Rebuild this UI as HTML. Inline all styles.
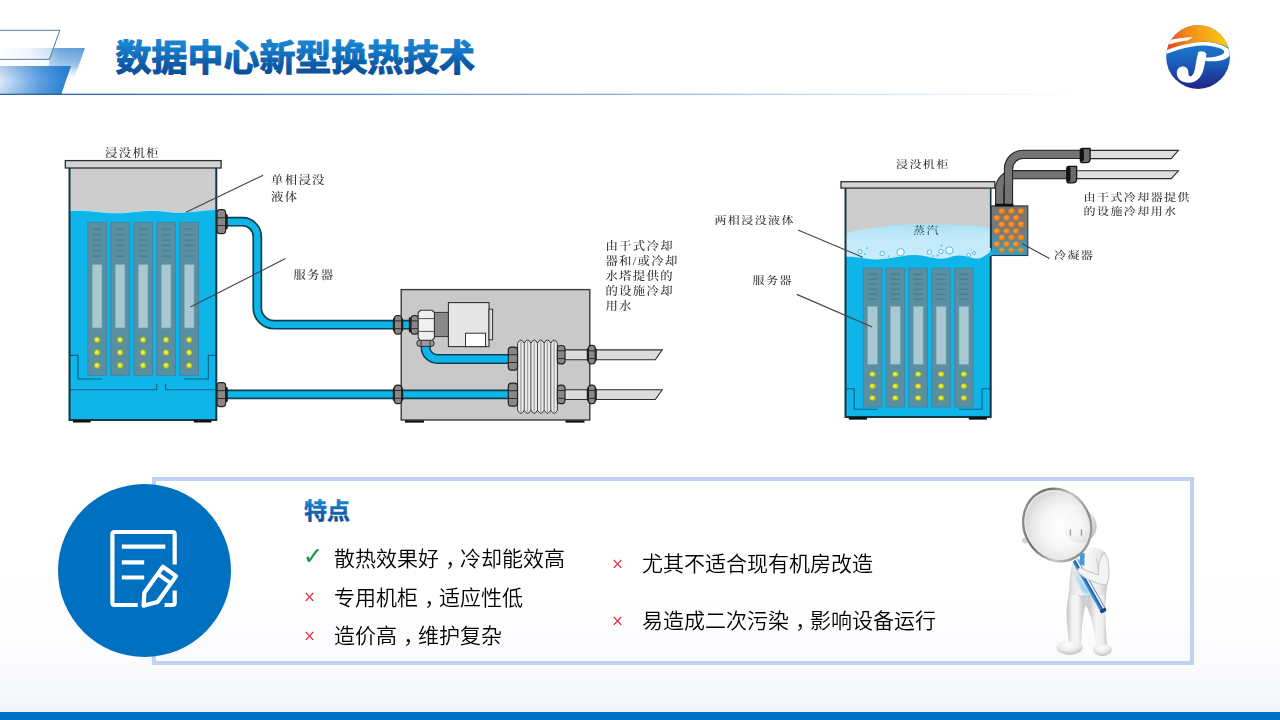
<!DOCTYPE html>
<html lang="zh-CN">
<head>
<meta charset="utf-8">
<title>数据中心新型换热技术</title>
<style>
*{box-sizing:border-box}
html,body{margin:0;padding:0}
body{width:1280px;height:720px;overflow:hidden;position:relative;background:#fff;
 font-family:"Liberation Sans","Noto Sans CJK SC",sans-serif;color:#000}
#page{position:absolute;left:0;top:0;width:1280px;height:720px;overflow:hidden;
 background:linear-gradient(to bottom,#ffffff 0%,#ffffff 78%,#fdfdfe 88%,#f9fafd 94%,#f4f6fb 97.5%,#f0f3fa 98.9%,#f0f3fa 100%)}
.abs{position:absolute}
#footer{left:0;top:712px;width:1280px;height:8px;background:#0070c0}
svg{position:absolute;left:0;top:0;overflow:visible}
#dg1,#dg2{filter:blur(0.4px)}
#titlesvg,#hsvg{transform:scaleY(1.0001);transform-origin:0 0}
.lbl{position:absolute;font-family:"Liberation Serif","Noto Serif CJK SC",serif;font-size:12.4px;letter-spacing:1.3px;line-height:14.6px;color:#333;font-weight:500;white-space:nowrap;transform:scaleY(0.94);transform-origin:0 0}
.lbl.r{font-size:12px;letter-spacing:1.42px;transform:scaleY(0.88)}
#panel{left:152px;top:477px;width:1042px;height:188px;border:4px solid #c0d2f3;
 background:linear-gradient(to bottom,#ffffff 0%,#ffffff 60%,#fafbfe 100%)}
#disc{left:58px;top:483.5px;width:173px;height:173px;border-radius:50%;background:#0070c0}
.li{position:absolute;font-size:21px;line-height:30px;height:30px;font-weight:350;white-space:nowrap;color:#000;transform:scaleY(1.0001);transform-origin:0 0}
.li .c{position:relative;left:0.3em}
.bx{position:absolute;font-family:"DejaVu Sans","Liberation Sans",sans-serif;font-weight:200;font-size:15px;line-height:20px;height:20px;color:#e3262f;-webkit-text-stroke:0.3px #e3262f;white-space:nowrap;transform:scaleY(1.0001)}
.bc{position:absolute;font-family:"DejaVu Sans",sans-serif;font-size:24px;line-height:24px;height:24px;color:#179a48;-webkit-text-stroke:0.2px #179a48;transform:scaleY(1.0001);white-space:nowrap}
</style>
</head>
<body>
<div id="page">
<!--DECO-->
<svg id="deco" width="1280" height="110" viewBox="0 0 1280 110">
<defs>
<linearGradient id="dMidV" x1="0" y1="48" x2="0" y2="78" gradientUnits="userSpaceOnUse">
<stop offset="0" stop-color="#5a98d6" stop-opacity="1"/><stop offset="0.6" stop-color="#88b6e4" stop-opacity="0.85"/><stop offset="1" stop-color="#c4dcf3" stop-opacity="0.1"/></linearGradient>
<linearGradient id="dMidH" x1="0" y1="0" x2="86" y2="0" gradientUnits="userSpaceOnUse">
<stop offset="0" stop-color="#fff" stop-opacity="1"/><stop offset="0.35" stop-color="#fff" stop-opacity="0.75"/><stop offset="0.7" stop-color="#fff" stop-opacity="0.1"/><stop offset="1" stop-color="#fff" stop-opacity="0"/></linearGradient>
<linearGradient id="dLow" x1="0" y1="0" x2="72" y2="0" gradientUnits="userSpaceOnUse">
<stop offset="0" stop-color="#dde9f8"/><stop offset="0.25" stop-color="#a2c9ef"/><stop offset="0.55" stop-color="#5fa2e2"/><stop offset="0.85" stop-color="#3488d8"/><stop offset="1" stop-color="#2b80d0"/></linearGradient>
<linearGradient id="dLowV" x1="0" y1="66" x2="0" y2="95" gradientUnits="userSpaceOnUse">
<stop offset="0" stop-color="#0a4fa0" stop-opacity="0.18"/><stop offset="0.5" stop-color="#0a4fa0" stop-opacity="0"/><stop offset="1" stop-color="#0a4fa0" stop-opacity="0.12"/></linearGradient>
<linearGradient id="dLine" x1="60" y1="0" x2="1110" y2="0" gradientUnits="userSpaceOnUse">
<stop offset="0" stop-color="#1d5c99"/><stop offset="0.25" stop-color="#3f7fbd"/><stop offset="0.6" stop-color="#8db8e2"/><stop offset="1" stop-color="#d9e8f6" stop-opacity="0"/></linearGradient>
</defs>
<polygon points="0,48.1 85,48.1 74.3,78 0,78" fill="url(#dMidV)"/>
<polygon points="0,48.1 85,48.1 74.3,78 0,78" fill="url(#dMidH)"/>
<polygon points="-5,30.3 59.8,30.3 49.4,59.4 -5,59.4" fill="#fff" fill-opacity="0.55" stroke="#3c6c9c" stroke-width="0.9"/>
<rect x="0" y="59.9" width="49.2" height="6.1" fill="#fff" fill-opacity="0.85"/>
<polygon points="0,66 71,66 61.2,94.6 0,94.6" fill="url(#dLow)"/>
<polygon points="0,66 71,66 61.2,94.6 0,94.6" fill="url(#dLowV)"/>
<rect x="0" y="93.7" width="1120" height="1.2" fill="url(#dLine)"/>
</svg>
<!--/DECO-->
<svg id="titlesvg" width="1280" height="110" viewBox="0 0 1280 110">
<defs><linearGradient id="tg" x1="0" y1="40" x2="0" y2="75" gradientUnits="userSpaceOnUse">
<stop offset="0" stop-color="#1b86d2"/><stop offset="0.3" stop-color="#1478c6"/><stop offset="0.75" stop-color="#0b58a3"/><stop offset="1" stop-color="#0a4f9a"/></linearGradient></defs>
<text x="115.6" y="70.6" font-family="'Liberation Sans','Noto Sans CJK SC',sans-serif" font-size="36" font-weight="700" fill="url(#tg)" stroke="url(#tg)" stroke-width="1.15" stroke-linejoin="round" letter-spacing="-0.05">数据中心新型换热技术</text>
</svg>
<!--LOGO-->
<svg id="logo" width="1280" height="110" viewBox="0 0 1280 110">
<defs>
<linearGradient id="lgO" x1="100" y1="260" x2="640" y2="150" gradientUnits="userSpaceOnUse">
<stop offset="0" stop-color="#e9471f"/><stop offset="0.28" stop-color="#f2811c"/><stop offset="0.6" stop-color="#f5a416"/><stop offset="1" stop-color="#f8c914"/></linearGradient>
<linearGradient id="lgB" x1="0" y1="240" x2="0" y2="670" gradientUnits="userSpaceOnUse">
<stop offset="0" stop-color="#1a78cf"/><stop offset="0.4" stop-color="#1a60ba"/><stop offset="0.75" stop-color="#1e3c9e"/><stop offset="1" stop-color="#23228a"/></linearGradient>
<clipPath id="lgC"><circle cx="370" cy="360" r="310"/></clipPath>
</defs>
<g transform="translate(1160,20) scale(0.10284)">
<g clip-path="url(#lgC)">
<rect x="40" y="40" width="660" height="650" fill="url(#lgB)"/>
<path d="M0,0 H739 V340 C700,280 640,245 560,228 C500,215 440,210 400,214 C330,220 250,240 200,256 C150,272 100,290 40,315 L0,330 Z" fill="url(#lgO)"/>
<path d="M70,200 C140,182 240,170 322,168 L268,200 C210,206 150,218 95,238 Z" fill="#fff"/>
<path d="M40,304 C120,268 260,224 400,214 C500,208 600,232 660,276 C700,306 690,350 640,376 C590,400 510,408 440,398 L440,364 C510,368 570,356 606,334 C632,318 630,298 600,282 C550,258 470,246 400,248 C300,254 160,290 50,334 Z" fill="#fff"/>
<path d="M372,312 C400,300 430,300 452,330 C444,380 434,440 420,490 C400,560 350,610 280,610 C210,610 160,570 163,510 C165,470 195,448 230,452 C262,456 280,484 276,520 C274,540 290,552 306,544 C328,532 338,490 346,440 C354,390 364,350 372,312 Z" fill="#fff"/>
</g>
</g>
</svg>
<!--/LOGO-->
<!--DIAGRAM1-->
<svg id="dg1" width="1280" height="720" viewBox="0 0 1280 720">
<rect x="69.5" y="168.0" width="146.8" height="252.0" fill="#cdcdcd"/>
<path d="M69.5,210.6 C82,209.6 95,211.6 110,212.8 C125,213.8 138,210.6 150,210.4 C162,210.2 170,212.6 180,212.4 C192,212.2 205,209.8 216.3,209.4 V420.0 H69.5 Z" fill="#0eb5e8"/>
<path d="M69.5,210.6 C82,209.6 95,211.6 110,212.8 C125,213.8 138,210.6 150,210.4 C162,210.2 170,212.6 180,212.4 C192,212.2 205,209.8 216.3,209.4" fill="none" stroke="#a8dff3" stroke-width="1"/>
<rect x="87.8" y="222.4" width="18.6" height="153.0" fill="#5a8fa2" stroke="#3f86a6" stroke-width="1"/>
<path d="M92.7,229.3h8.8M92.7,234.7h8.8M92.7,240.1h8.8M92.7,245.5h8.8M92.7,250.9h8.8M92.7,256.3h8.8" stroke="#4b7e91" stroke-width="1.4" fill="none"/>
<rect x="92.3" y="264.7" width="9.6" height="63.2" fill="#a9c9d2" stroke="#7fa9b8" stroke-width="0.6"/>
<circle cx="97.1" cy="339.8" r="3" fill="#cfdc2e" stroke="#7f9a3a" stroke-width="0.7"/>
<circle cx="96.7" cy="339.4" r="1.5" fill="#e8f05a"/>
<circle cx="97.1" cy="352.6" r="3" fill="#cfdc2e" stroke="#7f9a3a" stroke-width="0.7"/>
<circle cx="96.7" cy="352.2" r="1.5" fill="#e8f05a"/>
<circle cx="97.1" cy="365.4" r="3" fill="#cfdc2e" stroke="#7f9a3a" stroke-width="0.7"/>
<circle cx="96.7" cy="365.0" r="1.5" fill="#e8f05a"/>
<rect x="110.8" y="222.4" width="18.6" height="153.0" fill="#5a8fa2" stroke="#3f86a6" stroke-width="1"/>
<path d="M115.7,229.3h8.8M115.7,234.7h8.8M115.7,240.1h8.8M115.7,245.5h8.8M115.7,250.9h8.8M115.7,256.3h8.8" stroke="#4b7e91" stroke-width="1.4" fill="none"/>
<rect x="115.3" y="264.7" width="9.6" height="63.2" fill="#a9c9d2" stroke="#7fa9b8" stroke-width="0.6"/>
<circle cx="120.1" cy="339.8" r="3" fill="#cfdc2e" stroke="#7f9a3a" stroke-width="0.7"/>
<circle cx="119.7" cy="339.4" r="1.5" fill="#e8f05a"/>
<circle cx="120.1" cy="352.6" r="3" fill="#cfdc2e" stroke="#7f9a3a" stroke-width="0.7"/>
<circle cx="119.7" cy="352.2" r="1.5" fill="#e8f05a"/>
<circle cx="120.1" cy="365.4" r="3" fill="#cfdc2e" stroke="#7f9a3a" stroke-width="0.7"/>
<circle cx="119.7" cy="365.0" r="1.5" fill="#e8f05a"/>
<rect x="133.8" y="222.4" width="18.6" height="153.0" fill="#5a8fa2" stroke="#3f86a6" stroke-width="1"/>
<path d="M138.7,229.3h8.8M138.7,234.7h8.8M138.7,240.1h8.8M138.7,245.5h8.8M138.7,250.9h8.8M138.7,256.3h8.8" stroke="#4b7e91" stroke-width="1.4" fill="none"/>
<rect x="138.3" y="264.7" width="9.6" height="63.2" fill="#a9c9d2" stroke="#7fa9b8" stroke-width="0.6"/>
<circle cx="143.1" cy="339.8" r="3" fill="#cfdc2e" stroke="#7f9a3a" stroke-width="0.7"/>
<circle cx="142.7" cy="339.4" r="1.5" fill="#e8f05a"/>
<circle cx="143.1" cy="352.6" r="3" fill="#cfdc2e" stroke="#7f9a3a" stroke-width="0.7"/>
<circle cx="142.7" cy="352.2" r="1.5" fill="#e8f05a"/>
<circle cx="143.1" cy="365.4" r="3" fill="#cfdc2e" stroke="#7f9a3a" stroke-width="0.7"/>
<circle cx="142.7" cy="365.0" r="1.5" fill="#e8f05a"/>
<rect x="156.8" y="222.4" width="18.6" height="153.0" fill="#5a8fa2" stroke="#3f86a6" stroke-width="1"/>
<path d="M161.7,229.3h8.8M161.7,234.7h8.8M161.7,240.1h8.8M161.7,245.5h8.8M161.7,250.9h8.8M161.7,256.3h8.8" stroke="#4b7e91" stroke-width="1.4" fill="none"/>
<rect x="161.3" y="264.7" width="9.6" height="63.2" fill="#a9c9d2" stroke="#7fa9b8" stroke-width="0.6"/>
<circle cx="166.1" cy="339.8" r="3" fill="#cfdc2e" stroke="#7f9a3a" stroke-width="0.7"/>
<circle cx="165.7" cy="339.4" r="1.5" fill="#e8f05a"/>
<circle cx="166.1" cy="352.6" r="3" fill="#cfdc2e" stroke="#7f9a3a" stroke-width="0.7"/>
<circle cx="165.7" cy="352.2" r="1.5" fill="#e8f05a"/>
<circle cx="166.1" cy="365.4" r="3" fill="#cfdc2e" stroke="#7f9a3a" stroke-width="0.7"/>
<circle cx="165.7" cy="365.0" r="1.5" fill="#e8f05a"/>
<rect x="179.9" y="222.4" width="18.6" height="153.0" fill="#5a8fa2" stroke="#3f86a6" stroke-width="1"/>
<path d="M184.8,229.3h8.8M184.8,234.7h8.8M184.8,240.1h8.8M184.8,245.5h8.8M184.8,250.9h8.8M184.8,256.3h8.8" stroke="#4b7e91" stroke-width="1.4" fill="none"/>
<rect x="184.4" y="264.7" width="9.6" height="63.2" fill="#a9c9d2" stroke="#7fa9b8" stroke-width="0.6"/>
<circle cx="189.2" cy="339.8" r="3" fill="#cfdc2e" stroke="#7f9a3a" stroke-width="0.7"/>
<circle cx="188.8" cy="339.4" r="1.5" fill="#e8f05a"/>
<circle cx="189.2" cy="352.6" r="3" fill="#cfdc2e" stroke="#7f9a3a" stroke-width="0.7"/>
<circle cx="188.8" cy="352.2" r="1.5" fill="#e8f05a"/>
<circle cx="189.2" cy="365.4" r="3" fill="#cfdc2e" stroke="#7f9a3a" stroke-width="0.7"/>
<circle cx="188.8" cy="365.0" r="1.5" fill="#e8f05a"/>
<path d="M69.5,355.4 H78 V379 H102 M216.3,355.4 H208.3 V379 H184.4 M69.5,389.8 H156.7 V384 M216.3,389.8 H165.6 V384" fill="none" stroke="#0c5f7d" stroke-width="1.1"/>
<path d="M69.5,168.0 V420.0 H216.3 V168.0" fill="none" stroke="#143744" stroke-width="2"/>
<rect x="73" y="420.3" width="17.6" height="2.2" fill="#0a0a0a"/><rect x="193.8" y="420.3" width="17.6" height="2.2" fill="#0a0a0a"/>
<rect x="65.3" y="160.6" width="155.8" height="7.4" fill="#d4d4d4" stroke="#2e2e2e" stroke-width="1.3"/>
<rect x="401.2" y="289.6" width="188.6" height="130.4" fill="#c9c9c9" stroke="#3a3a3a" stroke-width="1.4"/>
<rect x="405" y="420.4" width="19" height="2.2" fill="#0a0a0a"/><rect x="565.5" y="420.4" width="19" height="2.2" fill="#0a0a0a"/>
<path d="M226,221.7 H242.3 A15,15 0 0 1 257.3,236.7 V307.7 A17,17 0 0 0 274.3,324.7 H420" fill="none" stroke="#0e3f52" stroke-width="9.8" stroke-linecap="butt"/><path d="M226,221.7 H242.3 A15,15 0 0 1 257.3,236.7 V307.7 A17,17 0 0 0 274.3,324.7 H420" fill="none" stroke="#0eb5e8" stroke-width="6.4" stroke-linecap="butt"/>
<path d="M226,394.4 H510" fill="none" stroke="#0e3f52" stroke-width="9.8" stroke-linecap="butt"/><path d="M226,394.4 H510" fill="none" stroke="#0eb5e8" stroke-width="6.4" stroke-linecap="butt"/>
<path d="M425.6,344 V347.2 A11.8,11.8 0 0 0 437.4,359 H510" fill="none" stroke="#0e3f52" stroke-width="10" stroke-linecap="butt"/><path d="M425.6,344 V347.2 A11.8,11.8 0 0 0 437.4,359 H510" fill="none" stroke="#0eb5e8" stroke-width="7" stroke-linecap="butt"/>
<path d="M563,349.9 H662.2 L655.3,359.7 H563 Z M563,389.7 H662.2 L655.3,399.5 H563 Z" fill="#dcdcdc" stroke="#2e2e2e" stroke-width="1.1" stroke-linejoin="miter"/>
<path d="M517.6,343.2 Q520.92,336.8 524.23,343.2 Q527.55,336.8 530.87,343.2 Q534.18,336.8 537.50,343.2 Q540.82,336.8 544.13,343.2 Q547.45,336.8 550.77,343.2 Q554.08,336.8 557.40,343.2 V410.2 Q554.08,416.6 550.77,410.2 Q547.45,416.6 544.13,410.2 Q540.82,416.6 537.50,410.2 Q534.18,416.6 530.87,410.2 Q527.55,416.6 524.23,410.2 Q520.92,416.6 517.60,410.2 Z" fill="#ececec" stroke="#333" stroke-width="1"/>
<path d="M524.23,343.2V410.2M530.87,343.2V410.2M537.50,343.2V410.2M544.13,343.2V410.2M550.77,343.2V410.2" stroke="#4a4a4a" stroke-width="1" fill="none"/>
<path d="M520.92,341.2V412.2M527.55,341.2V412.2M534.18,341.2V412.2M540.82,341.2V412.2M547.45,341.2V412.2M554.08,341.2V412.2" stroke="#a2a2a2" stroke-width="1.3" fill="none"/>
<rect x="224.6" y="214.1" width="3.2" height="15.2" rx="1.4" fill="#1c1c1c"/><rect x="217.0" y="209.7" width="8.6" height="24.0" rx="3" ry="3.4" fill="#8b8786" stroke="#222" stroke-width="1.2"/><path d="M217.0,217.8h8.6M217.0,225.6h8.6" stroke="#2a2a2a" stroke-width="1" fill="none"/>
<rect x="224.6" y="387.0" width="3.2" height="15.2" rx="1.4" fill="#1c1c1c"/><rect x="217.0" y="382.6" width="8.6" height="24.0" rx="3" ry="3.4" fill="#8b8786" stroke="#222" stroke-width="1.2"/><path d="M217.0,390.7h8.6M217.0,398.5h8.6" stroke="#2a2a2a" stroke-width="1" fill="none"/>
<rect x="392.8" y="317.5" width="10.4" height="14.6" rx="2.4" fill="#1c1c1c"/><rect x="394.4" y="315.5" width="7.2" height="18.6" rx="3" ry="3.4" fill="#8b8786" stroke="#222" stroke-width="1.2"/><path d="M394.4,320.9h7.2M394.4,328.7h7.2" stroke="#2a2a2a" stroke-width="1" fill="none"/>
<rect x="392.8" y="387.1" width="10.4" height="14.6" rx="2.4" fill="#1c1c1c"/><rect x="394.4" y="385.1" width="7.2" height="18.6" rx="3" ry="3.4" fill="#8b8786" stroke="#222" stroke-width="1.2"/><path d="M394.4,390.5h7.2M394.4,398.3h7.2" stroke="#2a2a2a" stroke-width="1" fill="none"/>
<rect x="408.8" y="317.2" width="3.2" height="15.2" rx="1.4" fill="#1c1c1c"/><rect x="411.0" y="315.5" width="7.4" height="18.6" rx="3" ry="3.4" fill="#8b8786" stroke="#222" stroke-width="1.2"/><path d="M411.0,320.9h7.4M411.0,328.7h7.4" stroke="#2a2a2a" stroke-width="1" fill="none"/>
<rect x="508.3" y="347.1" width="9.2" height="23.0" rx="3" ry="3.4" fill="#8b8786" stroke="#222" stroke-width="1.2"/><path d="M508.3,354.7h9.2M508.3,362.5h9.2" stroke="#2a2a2a" stroke-width="1" fill="none"/>
<rect x="508.3" y="383.1" width="9.2" height="23.0" rx="3" ry="3.4" fill="#8b8786" stroke="#222" stroke-width="1.2"/><path d="M508.3,390.7h9.2M508.3,398.5h9.2" stroke="#2a2a2a" stroke-width="1" fill="none"/>
<rect x="557.4" y="345.5" width="7.6" height="18.4" rx="3" ry="3.4" fill="#8b8786" stroke="#222" stroke-width="1.2"/><path d="M557.4,350.8h7.6M557.4,358.6h7.6" stroke="#2a2a2a" stroke-width="1" fill="none"/>
<rect x="557.4" y="385.2" width="7.6" height="18.4" rx="3" ry="3.4" fill="#8b8786" stroke="#222" stroke-width="1.2"/><path d="M557.4,390.5h7.6M557.4,398.3h7.6" stroke="#2a2a2a" stroke-width="1" fill="none"/>
<rect x="586.8" y="347.4" width="10.0" height="14.6" rx="2.4" fill="#1c1c1c"/><rect x="588.4" y="345.4" width="6.8" height="18.6" rx="3" ry="3.4" fill="#8b8786" stroke="#222" stroke-width="1.2"/><path d="M588.4,350.8h6.8M588.4,358.6h6.8" stroke="#2a2a2a" stroke-width="1" fill="none"/>
<rect x="586.8" y="387.1" width="10.0" height="14.6" rx="2.4" fill="#1c1c1c"/><rect x="588.4" y="385.1" width="6.8" height="18.6" rx="3" ry="3.4" fill="#8b8786" stroke="#222" stroke-width="1.2"/><path d="M588.4,390.5h6.8M588.4,398.3h6.8" stroke="#2a2a2a" stroke-width="1" fill="none"/>
<rect x="434.4" y="312.4" width="14.2" height="24.2" fill="#8a8a8a" stroke="#333" stroke-width="1"/>
<rect x="448.4" y="302.6" width="40.6" height="44" fill="#e6e6e6" stroke="#333" stroke-width="1.1"/>
<rect x="489" y="309.2" width="3.6" height="30.6" fill="#dcdcdc" stroke="#333" stroke-width="1"/>
<rect x="465.5" y="333.2" width="20" height="13.4" fill="#fff" stroke="#333" stroke-width="1"/>
<rect x="416.8" y="340.2" width="17.4" height="6.2" rx="3" fill="#9a9a9a" stroke="#2a2a2a" stroke-width="1"/>
<path d="M421,340.4v6M430,340.4v6" stroke="#2a2a2a" stroke-width="0.9"/>
<path d="M420.5,310.3 H432 L434.4,312.5 V338 L432,340.3 H420.5 L418.2,338 V312.5 Z" fill="#f0f0f0" stroke="#333" stroke-width="1.1"/>
<path d="M418.2,318.6H434.4M418.2,331.4H434.4" stroke="#444" stroke-width="0.9"/>
<path d="M186,212.3 L263.2,175.2 M190.5,307 L285.5,258.5" stroke="#444" stroke-width="1.15" fill="none"/>
</svg>
<!--/DIAGRAM1-->
<!--DIAGRAM2-->
<svg id="dg2" width="1280" height="720" viewBox="0 0 1280 720">
<defs>
<linearGradient id="vap" x1="0" y1="224" x2="0" y2="258" gradientUnits="userSpaceOnUse">
<stop offset="0" stop-color="#a9e0f6"/><stop offset="0.3" stop-color="#bfe9fa"/><stop offset="1" stop-color="#c9edfb"/></linearGradient>
<linearGradient id="cond" x1="0" y1="206" x2="0" y2="256" gradientUnits="userSpaceOnUse">
<stop offset="0" stop-color="#767676"/><stop offset="0.45" stop-color="#727a7e"/><stop offset="0.75" stop-color="#4d8fae"/><stop offset="1" stop-color="#2f9fd0"/></linearGradient>
<radialGradient id="org" cx="0.42" cy="0.4" r="0.6">
<stop offset="0" stop-color="#f9a23a"/><stop offset="0.6" stop-color="#f0861c"/><stop offset="1" stop-color="#d86c12"/></radialGradient>
<radialGradient id="org2" cx="0.42" cy="0.4" r="0.6">
<stop offset="0" stop-color="#d8a04a"/><stop offset="0.6" stop-color="#b8923c"/><stop offset="1" stop-color="#8a8440"/></radialGradient>
</defs>
<rect x="845.5" y="188.0" width="145.20000000000005" height="229.0" fill="#cdcdcd"/>
<path d="M845.5,233.5 C870,226.5 900,224.3 925,224.3 C950,224.3 975,225.3 990.7,227.5 V262 H845.5 Z" fill="url(#vap)"/>
<path d="M845.5,256.8 C852,256.6 858,257.2 864,258.2 C872,259.6 880,259.8 888,258.6 C898,257 906,255 915,255 C924,255 932,258.6 940,258.8 C948,259 952,255.8 959,255.6 C966,255.4 971,258.6 977,258.6 C983,258.6 986,254 990.7,252.2 V417.0 H845.5 Z" fill="#0eb5e8"/>
<circle cx="860" cy="251.5" r="2" fill="#f4fbff" stroke="#4fbbe8" stroke-width="1"/>
<circle cx="882.2" cy="253.5" r="2.2" fill="#f4fbff" stroke="#4fbbe8" stroke-width="1"/>
<circle cx="900.6" cy="252.2" r="3.7" fill="#f4fbff" stroke="#4fbbe8" stroke-width="1"/>
<circle cx="929.4" cy="252.2" r="2.2" fill="#f4fbff" stroke="#4fbbe8" stroke-width="1"/>
<circle cx="941" cy="251.5" r="2.2" fill="#f4fbff" stroke="#4fbbe8" stroke-width="1"/>
<circle cx="949.4" cy="250.4" r="3.6" fill="#f4fbff" stroke="#4fbbe8" stroke-width="1"/>
<circle cx="968.7" cy="255" r="1.8" fill="#f4fbff" stroke="#4fbbe8" stroke-width="1"/>
<circle cx="974" cy="253.1" r="1.5" fill="#f4fbff" stroke="#4fbbe8" stroke-width="1"/>
<circle cx="864.7" cy="254" r="1" fill="#5cc2ec"/>
<circle cx="866.9" cy="248.1" r="0.9" fill="#5cc2ec"/>
<circle cx="888.7" cy="256.2" r="1" fill="#5cc2ec"/>
<circle cx="933.1" cy="256" r="1" fill="#5cc2ec"/>
<circle cx="937.5" cy="255.6" r="1.1" fill="#5cc2ec"/>
<circle cx="941.5" cy="245.6" r="1.1" fill="#5cc2ec"/>
<circle cx="971.2" cy="249.7" r="0.8" fill="#5cc2ec"/>
<rect x="863.3" y="268.2" width="18.4" height="138.8" fill="#5a8fa2" stroke="#3f86a6" stroke-width="1"/>
<path d="M867.9,274.2h9.2M867.9,279.2h9.2M867.9,284.2h9.2M867.9,289.2h9.2M867.9,294.2h9.2M867.9,299.2h9.2" stroke="#4b7e91" stroke-width="1.4" fill="none"/>
<rect x="867.6" y="306.3" width="9.8" height="58.0" fill="#a9c9d2" stroke="#7fa9b8" stroke-width="0.6"/>
<ellipse cx="872.5" cy="374.2" rx="3.1" ry="2.7" fill="#cfdc2e" stroke="#7f9a3a" stroke-width="0.7"/>
<circle cx="872.1" cy="373.9" r="1.4" fill="#e8f05a"/>
<ellipse cx="872.5" cy="386.2" rx="3.1" ry="2.7" fill="#cfdc2e" stroke="#7f9a3a" stroke-width="0.7"/>
<circle cx="872.1" cy="385.9" r="1.4" fill="#e8f05a"/>
<ellipse cx="872.5" cy="398.0" rx="3.1" ry="2.7" fill="#cfdc2e" stroke="#7f9a3a" stroke-width="0.7"/>
<circle cx="872.1" cy="397.7" r="1.4" fill="#e8f05a"/>
<rect x="886.1" y="268.2" width="18.4" height="138.8" fill="#5a8fa2" stroke="#3f86a6" stroke-width="1"/>
<path d="M890.7,274.2h9.2M890.7,279.2h9.2M890.7,284.2h9.2M890.7,289.2h9.2M890.7,294.2h9.2M890.7,299.2h9.2" stroke="#4b7e91" stroke-width="1.4" fill="none"/>
<rect x="890.4" y="306.3" width="9.8" height="58.0" fill="#a9c9d2" stroke="#7fa9b8" stroke-width="0.6"/>
<ellipse cx="895.3" cy="374.2" rx="3.1" ry="2.7" fill="#cfdc2e" stroke="#7f9a3a" stroke-width="0.7"/>
<circle cx="894.9" cy="373.9" r="1.4" fill="#e8f05a"/>
<ellipse cx="895.3" cy="386.2" rx="3.1" ry="2.7" fill="#cfdc2e" stroke="#7f9a3a" stroke-width="0.7"/>
<circle cx="894.9" cy="385.9" r="1.4" fill="#e8f05a"/>
<ellipse cx="895.3" cy="398.0" rx="3.1" ry="2.7" fill="#cfdc2e" stroke="#7f9a3a" stroke-width="0.7"/>
<circle cx="894.9" cy="397.7" r="1.4" fill="#e8f05a"/>
<rect x="909.0" y="268.2" width="18.4" height="138.8" fill="#5a8fa2" stroke="#3f86a6" stroke-width="1"/>
<path d="M913.6,274.2h9.2M913.6,279.2h9.2M913.6,284.2h9.2M913.6,289.2h9.2M913.6,294.2h9.2M913.6,299.2h9.2" stroke="#4b7e91" stroke-width="1.4" fill="none"/>
<rect x="913.3" y="306.3" width="9.8" height="58.0" fill="#a9c9d2" stroke="#7fa9b8" stroke-width="0.6"/>
<ellipse cx="918.2" cy="374.2" rx="3.1" ry="2.7" fill="#cfdc2e" stroke="#7f9a3a" stroke-width="0.7"/>
<circle cx="917.8" cy="373.9" r="1.4" fill="#e8f05a"/>
<ellipse cx="918.2" cy="386.2" rx="3.1" ry="2.7" fill="#cfdc2e" stroke="#7f9a3a" stroke-width="0.7"/>
<circle cx="917.8" cy="385.9" r="1.4" fill="#e8f05a"/>
<ellipse cx="918.2" cy="398.0" rx="3.1" ry="2.7" fill="#cfdc2e" stroke="#7f9a3a" stroke-width="0.7"/>
<circle cx="917.8" cy="397.7" r="1.4" fill="#e8f05a"/>
<rect x="931.9" y="268.2" width="18.4" height="138.8" fill="#5a8fa2" stroke="#3f86a6" stroke-width="1"/>
<path d="M936.5,274.2h9.2M936.5,279.2h9.2M936.5,284.2h9.2M936.5,289.2h9.2M936.5,294.2h9.2M936.5,299.2h9.2" stroke="#4b7e91" stroke-width="1.4" fill="none"/>
<rect x="936.2" y="306.3" width="9.8" height="58.0" fill="#a9c9d2" stroke="#7fa9b8" stroke-width="0.6"/>
<ellipse cx="941.1" cy="374.2" rx="3.1" ry="2.7" fill="#cfdc2e" stroke="#7f9a3a" stroke-width="0.7"/>
<circle cx="940.7" cy="373.9" r="1.4" fill="#e8f05a"/>
<ellipse cx="941.1" cy="386.2" rx="3.1" ry="2.7" fill="#cfdc2e" stroke="#7f9a3a" stroke-width="0.7"/>
<circle cx="940.7" cy="385.9" r="1.4" fill="#e8f05a"/>
<ellipse cx="941.1" cy="398.0" rx="3.1" ry="2.7" fill="#cfdc2e" stroke="#7f9a3a" stroke-width="0.7"/>
<circle cx="940.7" cy="397.7" r="1.4" fill="#e8f05a"/>
<rect x="954.7" y="268.2" width="18.4" height="138.8" fill="#5a8fa2" stroke="#3f86a6" stroke-width="1"/>
<path d="M959.3,274.2h9.2M959.3,279.2h9.2M959.3,284.2h9.2M959.3,289.2h9.2M959.3,294.2h9.2M959.3,299.2h9.2" stroke="#4b7e91" stroke-width="1.4" fill="none"/>
<rect x="959.0" y="306.3" width="9.8" height="58.0" fill="#a9c9d2" stroke="#7fa9b8" stroke-width="0.6"/>
<ellipse cx="963.9" cy="374.2" rx="3.1" ry="2.7" fill="#cfdc2e" stroke="#7f9a3a" stroke-width="0.7"/>
<circle cx="963.5" cy="373.9" r="1.4" fill="#e8f05a"/>
<ellipse cx="963.9" cy="386.2" rx="3.1" ry="2.7" fill="#cfdc2e" stroke="#7f9a3a" stroke-width="0.7"/>
<circle cx="963.5" cy="385.9" r="1.4" fill="#e8f05a"/>
<ellipse cx="963.9" cy="398.0" rx="3.1" ry="2.7" fill="#cfdc2e" stroke="#7f9a3a" stroke-width="0.7"/>
<circle cx="963.5" cy="397.7" r="1.4" fill="#e8f05a"/>
<path d="M845.5,388.8 H854.2 V409.2 H877.5 M990.7,388.8 H982 V409.2 H958.8" fill="none" stroke="#0c5f7d" stroke-width="1.1"/>
<path d="M845.5,188.0 V417.0 H990.7 V256" fill="none" stroke="#143744" stroke-width="2"/>
<path d="M990.7,188.0 V248" fill="none" stroke="#143744" stroke-width="1.6"/>
<rect x="848.8" y="417.4" width="18.2" height="2.2" fill="#0a0a0a"/><rect x="968.8" y="417.4" width="18.2" height="2.2" fill="#0a0a0a"/>
<rect x="841" y="181.7" width="153.8" height="6.4" fill="#d4d4d4" stroke="#2e2e2e" stroke-width="1.3"/>
<path d="M1074,170.8 H1178.4 L1171.2,178.6 H1074 Z M1088,150.4 H1178.4 L1171.2,158.6 H1088 Z" fill="#dedede" stroke="#2a2a2a" stroke-width="1.1"/>
<path d="M999.7,206 V188.8 A14,14 0 0 1 1013.7,174.7 H1068" fill="none" stroke="#262626" stroke-width="9.3"/><path d="M999.7,206 V188.8 A14,14 0 0 1 1013.7,174.7 H1068" fill="none" stroke="#747474" stroke-width="7.1"/>
<path d="M1008.5,206 V168.9 A14.5,14.5 0 0 1 1023,154.4 H1081" fill="none" stroke="#262626" stroke-width="9.3"/><path d="M1008.5,206 V168.9 A14.5,14.5 0 0 1 1023,154.4 H1081" fill="none" stroke="#747474" stroke-width="7.1"/>
<path d="M1082.3,148.5 H1090.1 V158.7 Q1090.1,162.7 1086.1,162.7 H1082.3 Q1080.3,162.7 1080.3,159.7 V150.5 Q1080.3,148.5 1082.3,148.5 Z" fill="#6a6a6a" stroke="#111" stroke-width="1.3"/><rect x="1080.3" y="149.0" width="3.6" height="12.2" rx="1.5" fill="#111"/>
<path d="M1068.8,166.3 H1076.6 V178.9 Q1076.6,182.9 1072.6,182.9 H1068.8 Q1066.8,182.9 1066.8,179.9 V168.3 Q1066.8,166.3 1068.8,166.3 Z" fill="#6a6a6a" stroke="#111" stroke-width="1.3"/><rect x="1066.8" y="166.8" width="3.6" height="14.6" rx="1.5" fill="#111"/>
<rect x="991.4" y="205.9" width="36.4" height="49.6" fill="url(#cond)" stroke="#2c3a40" stroke-width="1.1"/>
<path d="M989.6,250.5 H993.5 V255 H989.6 Z" fill="#0eb5e8"/>
<rect x="995" y="203.8" width="18.4" height="2.6" fill="#111"/>
<ellipse cx="1002" cy="211.3" rx="3.3" ry="3" fill="url(#org)"/>
<ellipse cx="1011.6" cy="211.3" rx="3.3" ry="3" fill="url(#org)"/>
<ellipse cx="1021.2" cy="211.3" rx="3.3" ry="3" fill="url(#org)"/>
<ellipse cx="997.1" cy="218" rx="3.3" ry="3" fill="url(#org)"/>
<ellipse cx="1006.7" cy="218" rx="3.3" ry="3" fill="url(#org)"/>
<ellipse cx="1016.2" cy="218" rx="3.3" ry="3" fill="url(#org)"/>
<ellipse cx="1002" cy="224.6" rx="3.3" ry="3" fill="url(#org)"/>
<ellipse cx="1011.6" cy="224.6" rx="3.3" ry="3" fill="url(#org)"/>
<ellipse cx="1021.2" cy="224.6" rx="3.3" ry="3" fill="url(#org)"/>
<ellipse cx="997.1" cy="231.2" rx="3.3" ry="3" fill="url(#org)"/>
<ellipse cx="1006.7" cy="231.2" rx="3.3" ry="3" fill="url(#org)"/>
<ellipse cx="1016.2" cy="231.2" rx="3.3" ry="3" fill="url(#org)"/>
<ellipse cx="1002" cy="237.6" rx="3.3" ry="3" fill="url(#org)"/>
<ellipse cx="1011.6" cy="237.6" rx="3.3" ry="3" fill="url(#org)"/>
<ellipse cx="1021.2" cy="237.6" rx="3.3" ry="3" fill="url(#org)"/>
<ellipse cx="997.1" cy="244.2" rx="3.3" ry="3" fill="url(#org)"/>
<ellipse cx="1006.7" cy="244.2" rx="3.3" ry="3" fill="url(#org)"/>
<ellipse cx="1016.2" cy="244.2" rx="3.3" ry="3" fill="url(#org)"/>
<ellipse cx="1002" cy="250.3" rx="3.3" ry="3" fill="url(#org2)"/>
<ellipse cx="1011.6" cy="250.3" rx="3.3" ry="3" fill="url(#org2)"/>
<ellipse cx="1021.2" cy="250.3" rx="3.3" ry="3" fill="url(#org2)"/>
<path d="M798,230 L862.8,257.2 M796.8,294.4 L872.2,327 M1022.4,243.8 L1049.5,258.6" stroke="#444" stroke-width="1.15" fill="none"/>
</svg>
<!--/DIAGRAM2-->
<!--LABELS-->
<div class="lbl" style="left:105px;top:147px">浸没机柜</div>
<div class="lbl" style="left:271px;top:173px;line-height:17.6px">单相浸没<br>液体</div>
<div class="lbl" style="left:293.4px;top:269px">服务器</div>
<div class="lbl" style="left:605.4px;top:240px;line-height:15.8px">由干式冷却<br>器和/或冷却<br>水塔提供的<br>的设施冷却<br>用水</div>
<div class="lbl r" style="left:896px;top:158.4px">浸没机柜</div>
<div class="lbl r" style="left:714.4px;top:213.5px">两相浸没液体</div>
<div class="lbl r" style="left:752.6px;top:273.6px">服务器</div>
<div class="lbl r" style="left:913px;top:223.8px;color:#2b5663">蒸汽</div>
<div class="lbl r" style="left:1083.6px;top:191.4px;line-height:15.7px">由干式冷却器提供<br>的设施冷却用水</div>
<div class="lbl r" style="left:1054px;top:249.4px">冷凝器</div>
<!--/LABELS-->
<div id="panel" class="abs"></div>
<div id="disc" class="abs"></div>
<!--ICON-->
<svg id="icon" width="1280" height="720" viewBox="0 0 1280 720">
<g fill="none" stroke="#fff" stroke-width="4.2" stroke-linejoin="round">
<path d="M174.7,564.4 V534.2 Q174.7,532 172.5,532 H114.6 Q112.4,532 112.4,534.2 V602.8 Q112.4,605 114.6,605 H137.8"/>
<path d="M164.6,605 H172.5 Q174.7,605 174.7,602.8 V590.6"/>
<path d="M121.8,546.6H165.3M121.8,562.3H144.2M121.8,577.5H144.2" stroke-linejoin="miter"/>
</g>
<g transform="translate(170.7,569.7) rotate(35.5)">
<path d="M-8.1,2.1 H8.1 V34 L-1.2,45 L-8.1,34 Z" fill="none" stroke="#fff" stroke-width="4.2" stroke-linejoin="round"/>
<path d="M-8.1,11 H8.1" fill="none" stroke="#fff" stroke-width="3.9"/>
</g>
</svg>
<!--/ICON-->
<svg id="hsvg" width="1280" height="720" viewBox="0 0 1280 720">
<defs><linearGradient id="hg" x1="0" y1="499" x2="0" y2="522" gradientUnits="userSpaceOnUse">
<stop offset="0" stop-color="#1b86d2"/><stop offset="0.3" stop-color="#1478c6"/><stop offset="0.75" stop-color="#0b58a3"/><stop offset="1" stop-color="#0a4f9a"/></linearGradient></defs>
<text x="303.9" y="519.3" font-family="'Liberation Sans','Noto Sans CJK SC',sans-serif" font-size="23" font-weight="700" fill="url(#hg)" stroke="url(#hg)" stroke-width="0.5" stroke-linejoin="round">特点</text>
</svg>
<div class="bc" style="left:303px;top:544.2px">✓</div>
<div class="li" style="left:334px;top:544px">散热效果好<span class="c">，</span>冷却能效高</div>
<div class="bx" style="left:303.3px;top:586.5px">×</div>
<div class="li" style="left:334px;top:582.5px">专用机柜<span class="c">，</span>适应性低</div>
<div class="bx" style="left:303.3px;top:626px">×</div>
<div class="li" style="left:334px;top:621px">造价高<span class="c">，</span>维护复杂</div>
<div class="bx" style="left:611.2px;top:553.7px">×</div>
<div class="li" style="left:642px;top:549px">尤其不适合现有机房改造</div>
<div class="bx" style="left:611.2px;top:611px">×</div>
<div class="li" style="left:642px;top:606.3px">易造成二次污染<span class="c">，</span>影响设备运行</div>
<!--MAN-->
<svg id="man" width="1280" height="720" viewBox="0 0 1280 720">
<defs>
<radialGradient id="mLens" cx="1060" cy="530" r="40" gradientUnits="userSpaceOnUse">
<stop offset="0" stop-color="#ffffff"/><stop offset="0.5" stop-color="#f4f4f4"/><stop offset="0.8" stop-color="#dedede"/><stop offset="1" stop-color="#c4c4c4"/></radialGradient>
<linearGradient id="mRing" x1="1025" y1="495" x2="1090" y2="555" gradientUnits="userSpaceOnUse">
<stop offset="0" stop-color="#9a9a9a"/><stop offset="0.3" stop-color="#6f6f6f"/><stop offset="0.55" stop-color="#c9c9c9"/><stop offset="0.8" stop-color="#8c8c8c"/><stop offset="1" stop-color="#b5b5b5"/></linearGradient>
<linearGradient id="mBody" x1="160" y1="0" x2="415" y2="0" gradientUnits="userSpaceOnUse">
<stop offset="0" stop-color="#c2c2c2"/><stop offset="0.16" stop-color="#e9e9e9"/><stop offset="0.45" stop-color="#fbfbfb"/><stop offset="0.8" stop-color="#e8e8e8"/><stop offset="1" stop-color="#bdbdbd"/></linearGradient>
<linearGradient id="mLegL" x1="160" y1="0" x2="255" y2="0" gradientUnits="userSpaceOnUse">
<stop offset="0" stop-color="#c4c4c4"/><stop offset="0.35" stop-color="#f3f3f3"/><stop offset="0.7" stop-color="#f6f6f6"/><stop offset="1" stop-color="#cfcfcf"/></linearGradient>
<linearGradient id="mLegR" x1="295" y1="0" x2="405" y2="0" gradientUnits="userSpaceOnUse">
<stop offset="0" stop-color="#cccccc"/><stop offset="0.4" stop-color="#f5f5f5"/><stop offset="0.75" stop-color="#ededed"/><stop offset="1" stop-color="#c0c0c0"/></linearGradient>
<radialGradient id="mHead" cx="1077" cy="522" r="22" gradientUnits="userSpaceOnUse">
<stop offset="0" stop-color="#ffffff"/><stop offset="0.55" stop-color="#f0f0f0"/><stop offset="1" stop-color="#bdbdbd"/></radialGradient>
<radialGradient id="mFoot" cx="0.45" cy="0.3" r="0.8">
<stop offset="0" stop-color="#ffffff"/><stop offset="0.5" stop-color="#ececec"/><stop offset="1" stop-color="#b0b0b0"/></radialGradient>
<linearGradient id="mHan" x1="0" y1="0" x2="6" y2="0" gradientUnits="userSpaceOnUse">
<stop offset="0" stop-color="#5aa6e2"/><stop offset="0.3" stop-color="#2a72c4"/><stop offset="0.5" stop-color="#1f55a6"/><stop offset="0.66" stop-color="#f2f7fc"/><stop offset="0.8" stop-color="#e0ebf7"/><stop offset="1" stop-color="#1a3a80"/></linearGradient>
<filter id="mBl" x="-20%" y="-20%" width="140%" height="140%"><feGaussianBlur stdDeviation="0.7"/></filter>
<filter id="mBl2" x="-40%" y="-40%" width="180%" height="180%"><feGaussianBlur stdDeviation="1.8"/></filter>
</defs>
<g filter="url(#mBl)">
<ellipse cx="1069.6" cy="647.6" rx="13" ry="7.4" fill="url(#mFoot)"/>
<ellipse cx="1102.5" cy="649.6" rx="9.3" ry="6.3" fill="url(#mFoot)"/>
<g transform="translate(1040,540) scale(0.16667)">
<path d="M270,55 C310,40 360,45 385,70 C405,95 415,150 414,200 C413,235 408,255 403,275 C396,320 392,360 392,400 L275,392 L160,440 C160,400 170,340 175,300 C178,250 178,200 190,160 C200,125 230,75 270,55 Z" fill="url(#mBody)"/>
<path d="M160,440 C160,400 166,360 172,330 L290,330 L275,392 C262,430 252,500 250,560 C249,580 248,600 247,616 L172,610 C168,560 160,500 160,440 Z" fill="url(#mLegL)"/>
<path d="M392,400 C392,470 398,560 402,628 L335,628 C330,570 318,500 300,450 C292,425 283,405 275,392 L290,330 L398,330 C394,355 392,380 392,400 Z" fill="url(#mLegR)"/>
<path d="M275,394 C268,370 252,345 232,330" fill="none" stroke="#cfcfcf" stroke-width="8"/>
</g>
<circle cx="1080.2" cy="526.2" r="16.5" fill="url(#mHead)"/>
<ellipse cx="1025.4" cy="540.6" rx="3.4" ry="3" fill="#d2d2d2"/>
</g>
<g transform="translate(1.2,0) rotate(-28 1056 525)">
<ellipse cx="1056" cy="525" rx="33" ry="37" fill="url(#mLens)" fill-opacity="0.72"/>
<ellipse cx="1056" cy="525" rx="33" ry="37" fill="none" stroke="url(#mRing)" stroke-width="2.5"/>
<ellipse cx="1056" cy="525" rx="31" ry="35" fill="none" stroke="#e9e9e9" stroke-width="1.4"/>
</g>
<path d="M1070.4,530.2v4.8M1081.5,530.2v4.8" stroke="#9a9a9a" stroke-width="1.4" stroke-linecap="round" fill="none"/>
<path d="M1080.4,553.5 L1084.6,553 L1084.4,566 L1079.2,563.4 Z" fill="#3d9be0"/>
<g transform="translate(1072.4,561.6) rotate(-29.4)">
<path d="M-3,6 L-6,32 L0,40 Z" fill="#8ecbf0" filter="url(#mBl2)"/>
<rect x="-0.3" y="0" width="6.2" height="59.4" rx="1.2" fill="url(#mHan)"/>
<rect x="-0.3" y="56" width="6.2" height="3.4" rx="1" fill="#1c3f86"/>
</g>
<g filter="url(#mBl)" transform="translate(1040,540) scale(0.16667)">
<path d="M385,75 C405,100 415,150 414,200 C413,230 409,250 402,264 C380,272 330,257 290,237 C265,224 240,207 228,192 C222,180 232,166 248,169 C275,180 320,202 352,208 C350,170 348,120 385,75 Z" fill="#f3f3f3" stroke="#c8c8c8" stroke-width="6"/>
<path d="M352,208 C350,170 346,140 338,112" fill="none" stroke="#cdcdcd" stroke-width="7"/>
</g>
</svg>
<!--/MAN-->
<div id="footer" class="abs"></div>
</div>
</body>
</html>
